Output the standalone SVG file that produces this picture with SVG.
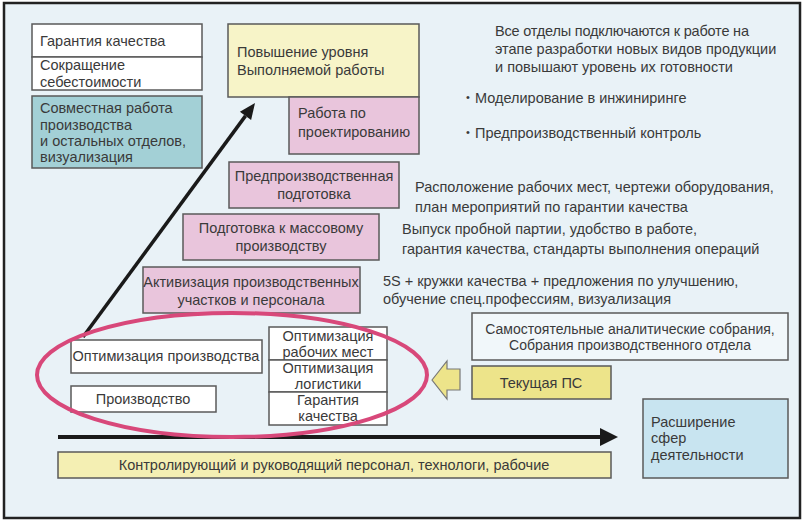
<svg xmlns="http://www.w3.org/2000/svg" width="804" height="522" viewBox="0 0 804 522">
<style>
text{font-family:"Liberation Sans","DejaVu Sans",sans-serif;font-size:14.5px;fill:#3a3a3a}
.b{stroke:#5a5a5a;stroke-width:1.5}
.w{fill:#ffffff}
.teal{fill:#a3d0d6}
.ly{fill:#f7f4c8}
.pk{fill:#e9c5dc}
.c{text-anchor:middle}
.s{font-size:14px}
</style>
<rect x="4" y="3" width="796" height="515" fill="#e9f2f7" stroke="#222" stroke-width="2.5"/>

<g id="connectors">
<line x1="83" y1="337" x2="245.5" y2="115.9" stroke="#1a1a1a" stroke-width="3.5"/>
<polygon points="255,103 251.1,120.05 239.9,111.75" fill="#1a1a1a"/>
<line x1="58" y1="437" x2="601" y2="437" stroke="#1a1a1a" stroke-width="4"/>
<polygon points="600,428 618,437 600,446" fill="#1a1a1a"/>
<polygon points="432,380 447,361 447,369 460,369 460,390 447,390 447,399" fill="#ede48a" stroke="#777" stroke-width="1.2"/>
</g>

<g id="n-garant">
<rect class="b w" x="32" y="24" width="170" height="33"/>
<text x="40" y="46">Гарантия качества</text>
</g>
<g id="n-sokr">
<rect class="b w" x="32" y="57" width="170" height="33"/>
<text x="40" y="70">Сокращение</text>
<text x="40" y="87">себестоимости</text>
</g>
<g id="n-sovm">
<rect class="b teal" x="32" y="96" width="170" height="72"/>
<text x="40" y="113">Совместная работа</text>
<text x="40" y="130">производства</text>
<text x="40" y="146">и остальных отделов,</text>
<text x="40" y="162">визуализация</text>
</g>
<g id="n-povysh">
<rect class="b ly" x="228" y="24" width="191" height="73"/>
<text x="237" y="57">Повышение уровня</text>
<text x="237" y="75">Выполняемой работы</text>
</g>
<g id="n-rabota">
<rect class="b pk" x="289" y="97" width="130" height="57"/>
<text x="298" y="118">Работа по</text>
<text x="298" y="137">проектированию</text>
</g>
<g id="n-predpr">
<rect class="b pk" x="229" y="162" width="170" height="46"/>
<text class="c" x="314" y="181">Предпроизводственная</text>
<text class="c" x="314" y="199">подготовка</text>
</g>
<g id="n-podg">
<rect class="b pk" x="183" y="214" width="196" height="46"/>
<text class="c" x="281" y="233">Подготовка к массовому</text>
<text class="c" x="281" y="251">производству</text>
</g>
<g id="n-aktiv">
<rect class="b pk" x="143" y="267" width="217" height="46"/>
<text class="c" x="251" y="287">Активизация производственных</text>
<text class="c" x="251" y="305">участков и персонала</text>
</g>
<g id="n-optprod">
<rect class="b w" x="71" y="340" width="191" height="33"/>
<text class="c" x="166" y="361">Оптимизация производства</text>
</g>
<g id="n-proizv">
<rect class="b w" x="71" y="386" width="145" height="26"/>
<text class="c" x="143" y="404">Производство</text>
</g>
<g id="n-optrab">
<rect class="b w" x="269" y="327" width="118" height="33"/>
<text class="c" x="328" y="341">Оптимизация</text>
<text class="c" x="328" y="357">рабочих мест</text>
</g>
<g id="n-optlog">
<rect class="b w" x="269" y="360" width="118" height="32"/>
<text class="c" x="328" y="373">Оптимизация</text>
<text class="c" x="328" y="389">логистики</text>
</g>
<g id="n-garant2">
<rect class="b w" x="269" y="392" width="118" height="33"/>
<text class="c" x="328" y="405">Гарантия</text>
<text class="c" x="328" y="421">качества</text>
</g>
<g id="n-ellipse">
<ellipse cx="232" cy="375" rx="195" ry="62" fill="none" stroke="#d8487a" stroke-width="4"/>
</g>
<g id="n-samost">
<rect class="b" x="472" y="313" width="316" height="47" fill="#f1f7fa"/>
<text class="c s" x="630" y="334">Самостоятельные аналитические собрания,</text>
<text class="c s" x="630" y="350">Собрания производственного отдела</text>
</g>
<g id="n-tekush">
<rect class="b" x="472" y="366" width="139" height="33" fill="#ede48a"/>
<text class="c" x="541" y="388">Текущая ПС</text>
</g>
<g id="n-rasshir">
<rect class="b" x="643" y="399" width="145" height="79" fill="#c8e4f0"/>
<text x="651" y="427">Расширение</text>
<text x="651" y="443">сфер</text>
<text x="651" y="460">деятельности</text>
</g>
<g id="n-kontrol">
<rect class="b" x="58" y="452" width="553" height="26" fill="#f4efb3"/>
<text class="c" x="334" y="470">Контролирующий и руководящий персонал, технологи, рабочие</text>
</g>

<g id="notes">
<text x="495" y="36" textLength="254" lengthAdjust="spacing">Все отделы подключаются к работе на</text>
<text x="495" y="54">этапе разработки новых видов продукции</text>
<text x="495" y="72">и повышают уровень их готовности</text>
<text x="466" y="101" style="font-size:11px">•</text>
<text x="475" y="103">Моделирование в инжиниринге</text>
<text x="466" y="136" style="font-size:11px">•</text>
<text x="475" y="138">Предпроизводственный контроль</text>
<text x="415" y="192">Расположение рабочих мест, чертежи оборудования,</text>
<text x="415" y="212">план мероприятий по гарантии качества</text>
<text x="402" y="234">Выпуск пробной партии, удобство в работе,</text>
<text x="402" y="254">гарантия качества, стандарты выполнения операций</text>
<text x="383" y="286">5S + кружки качества + предложения по улучшению,</text>
<text x="383" y="304">обучение спец.профессиям, визуализация</text>
</g>
</svg>
